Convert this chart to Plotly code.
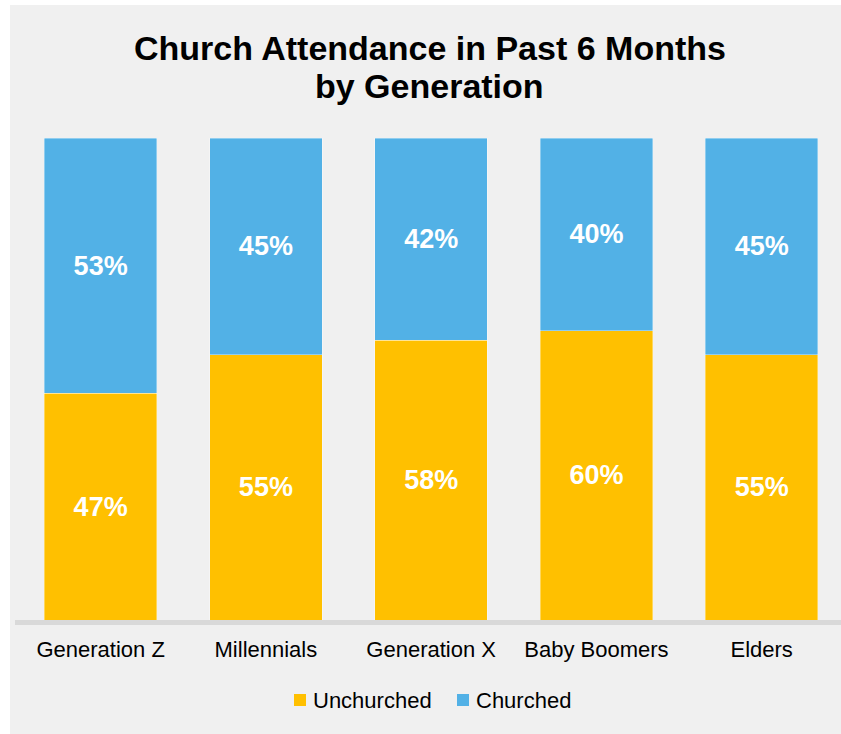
import plotly.graph_objects as go

generations = ["Generation Z", "Millennials", "Generation X", "Baby Boomers", "Elders"]
unchurched = [47, 55, 58, 60, 55]
churched = [53, 45, 42, 40, 45]
title_lines = ["Church Attendance in Past 6 Months", "by Generation"]

YELLOW = "#FFC000"
BLUE = "#52B1E6"
FONT = "Liberation Sans, Arial, sans-serif"

W, H = 841, 734
L, R, T, B = 18, 0, 138, 114
plot_w = W - L - R
plot_h = H - T - B


def px_x(px):
    return (px - L) / plot_w


def px_y(py):
    return (H - B - py) / plot_h


series = [("Unchurched", unchurched, YELLOW), ("Churched", churched, BLUE)]

fig = go.Figure()
for name, vals, col in series:
    fig.add_trace(go.Bar(
        name=name,
        x=generations,
        y=vals,
        marker=dict(color=col, line=dict(color="rgba(255,255,255,0.45)", width=0.8)),
        text=[f"{v}%" for v in vals],
        texttemplate="%{text}",
        textposition="inside",
        insidetextanchor="middle",
        textangle=0,
        textfont=dict(family=FONT, size=27, color="white", weight="bold"),
        hoverinfo="skip",
        showlegend=False,
    ))

# panel background and baseline
fig.add_shape(type="rect", xref="paper", yref="paper", layer="below",
              x0=px_x(10), x1=px_x(W + 20), y0=px_y(H + 20), y1=px_y(5),
              fillcolor="#F0F0F0", line=dict(width=0))
fig.add_shape(type="line", xref="paper", yref="paper", layer="below",
              x0=px_x(15), x1=px_x(W + 20), y0=px_y(622.5), y1=px_y(622.5),
              line=dict(color="#D9D9D9", width=5))

# two-line title
for line, cy in zip(title_lines, [47.5, 86.5]):
    fig.add_annotation(
        text=f"<b>{line}</b>", showarrow=False,
        xref="paper", x=0.5, xanchor="center",
        yref="paper", y=px_y(cy), yanchor="middle",
        font=dict(family=FONT, size=34, color="#000000"),
    )

# legend: swatch + label per series
legend_items = [(294, 311), (457, 474)]
for (name, _, col), (sx, tx) in zip(series, legend_items):
    fig.add_shape(type="rect", xref="paper", yref="paper",
                  x0=px_x(sx), x1=px_x(sx + 12), y0=px_y(706), y1=px_y(694),
                  fillcolor=col, line=dict(width=0))
    fig.add_annotation(
        text=name, showarrow=False,
        xref="paper", x=px_x(tx), xanchor="left",
        yref="paper", y=px_y(700), yanchor="middle",
        font=dict(family=FONT, size=22, color="#000000"),
    )

fig.update_layout(
    width=W, height=H,
    margin=dict(l=L, r=R, t=T, b=B, pad=0),
    barmode="stack",
    bargap=0.32,
    paper_bgcolor="white",
    plot_bgcolor="rgba(0,0,0,0)",
    font=dict(family=FONT, color="#000000"),
    xaxis=dict(
        range=[-0.5, 4.48],
        showgrid=False, zeroline=False, showline=False,
        ticks="outside", ticklen=10, tickcolor="rgba(0,0,0,0)",
        tickfont=dict(family=FONT, size=22, color="#000000"),
        fixedrange=True,
    ),
    yaxis=dict(range=[0, 100], visible=False, fixedrange=True),
    showlegend=False,
)

fig.write_html("out.html")
